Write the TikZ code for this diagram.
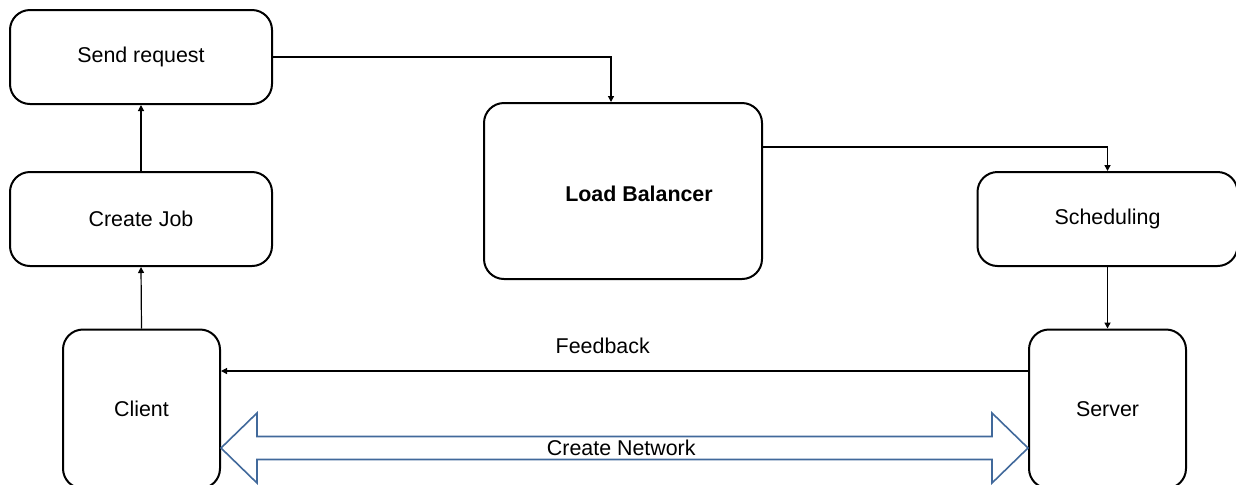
\documentclass[tikz,border=0pt]{standalone}
\usepackage{fontspec}
\setmainfont{Liberation Sans}
\usetikzlibrary{arrows.meta,calc}
\definecolor{netblue}{RGB}{65,105,155}
\begin{document}
\begin{tikzpicture}[x=0.5pt, y=-0.5pt,
        font=\fontsize{10.7}{12.8}\selectfont,
        box/.style={draw, line width=1pt, rounded corners=10pt, inner sep=0pt},
        link/.style={line width=0.6pt, -{Triangle[length=3pt,width=3pt]}},
        netarrow/.style={draw=netblue, line width=0.8pt, line join=miter}]
        \clip 
            (0,0) rectangle (1236,484);
        \node 
            [box, minimum width=131pt, minimum height=47pt] (req) at (141,57) {Send request};
        \node 
            [box, minimum width=131pt, minimum height=47pt] (job) at (141,219) {Create Job};
        \node 
            [box, minimum width=78.5pt, minimum height=79.5pt] (client) at (141.5,409) {Client};
        \node 
            [box, minimum width=139pt, minimum height=88pt] (lb) at (623,191) {\hspace*{16pt}\raisebox{-1.5pt}[\height][\depth]{\textbf{Load Balancer}}};
        \node 
            [box, minimum width=130pt, minimum height=47pt] (sched) at (1107.5,219) {Scheduling};
        \node 
            [box, minimum width=78.5pt, minimum height=79.5pt] (server) at (1107.5,409) {Server};
        \draw 
            [link] (client.north) -- (job.south);
        \draw 
            [link] (job.north) -- (req.south);
        \draw 
            [link] (req.east) -| ([xshift=-6pt]lb.north);
        \draw 
            [link, line width=0.9pt] ([yshift=22pt]lb.east) -| (sched.north);
        \draw 
            [link, line width=0.9pt] (sched.south) -- (server.north);
        \draw 
            [link] ([yshift=19pt]server.west) -- ([yshift=19pt]client.east) node[pos=0.527, yshift=12.5pt] (fb) {Feedback};
        \coordinate (netl) at ([yshift=-19.5pt]client.east);
        \coordinate (netr) at ([yshift=-19.5pt]server.west);
        \draw 
            [netarrow] (netl) -- ($(netl)+(18pt,17.5pt)$) -- ($(netl)+(18pt,5.75pt)$)
            -- ($(netr)+(-18pt,5.75pt)$) -- ($(netr)+(-18pt,17.5pt)$) -- (netr)
            -- ($(netr)+(-18pt,-17.5pt)$) -- ($(netr)+(-18pt,-5.75pt)$)
            -- ($(netl)+(18pt,-5.75pt)$) -- ($(netl)+(18pt,-17.5pt)$) -- cycle;
        \node 
            (net) at ($(netl)!0.496!(netr)$) {Create Network};
    \end{tikzpicture}
\end{document}
